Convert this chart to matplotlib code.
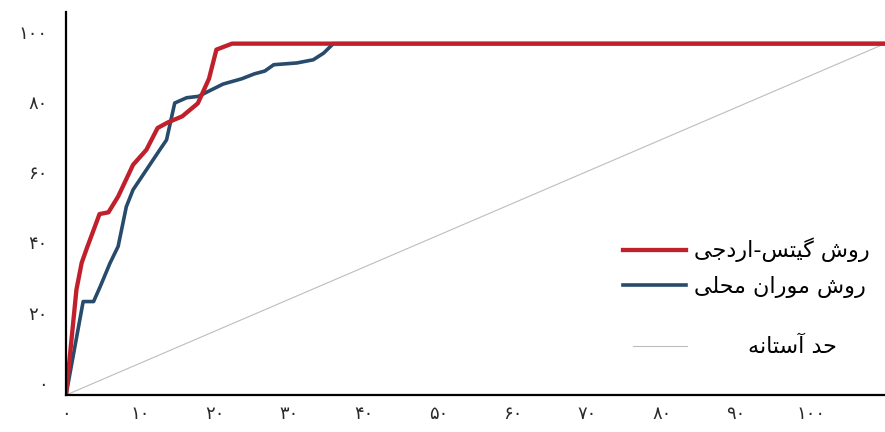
import matplotlib.pyplot as plt
from matplotlib.lines import Line2D
from matplotlib.transforms import ScaledTranslation

# Gates-Ord curve (x: percent of area, y: cumulative percent)
gates_x = [0, 1.4, 2.1, 2.8, 4.5, 5.7, 7.0, 9.0, 10.8, 12.3, 13.7, 15.6, 17.7, 19.2, 20.2, 22.3, 110]
gates_y = [0, 30, 37.6, 41.8, 51.5, 52.0, 56.5, 65.5, 69.8, 76.0, 77.6, 79.3, 83.0, 90.0, 98.3, 100, 100]

# local Moran curve
moran_x = [0, 2.3, 3.7, 4.6, 5.9, 7.0, 8.1, 9.0, 10.8, 12.6, 13.5, 14.6, 16.2, 17.8, 19.1, 21.1,
           23.6, 25.3, 26.7, 27.9, 31.0, 33.2, 34.6, 35.9, 110]
moran_y = [0, 26.6, 26.6, 30.9, 37.5, 42.3, 53.6, 58.4, 64.1, 69.8, 72.6, 83.1, 84.6, 85.0, 86.4, 88.5,
           90.0, 91.4, 92.2, 94.0, 94.5, 95.4, 97.3, 100, 100]

# threshold diagonal
thresh_x = [0, 110]
thresh_y = [0, 100]

x_ticks = [0, 10, 20, 30, 40, 50, 60, 70, 80, 90, 100]
y_ticks = [0, 20, 40, 60, 80, 100]

# pre-shaped Persian labels (presentation forms, visual order)
label_gates = "\uFBFD\uFE9F\uFEA9\uFEAD\uFE8D-\uFEB2\uFE98\uFBFF\uFB94 \uFEB5\uFEED\uFEAD"   # روش گیتس-اردجی
label_moran = "\uFBFD\uFEE0\uFEA4\uFEE3 \uFEE5\uFE8D\uFEAD\uFEEE\uFEE3 \uFEB5\uFEED\uFEAD"  # روش موران محلی
label_thresh = "\uFEEA\uFEE7\uFE8E\uFE98\uFEB3\uFE81 \uFEAA\uFEA3"                            # حد آستانه

fa_digits = str.maketrans("0123456789", "۰۱۲۳۴۵۶۷۸۹")


def to_fa(n):
    return str(n).translate(fa_digits)


plt.rcParams['font.family'] = ['DejaVu Sans']

fig = plt.figure(figsize=(8.85, 4.32), dpi=100)
ax = fig.add_axes([0.0746, 0.0856, 0.9254, 0.8866])

red = '#c0202c'
blue = '#284b6c'
grey = '#bdbdbd'

ax.plot(thresh_x, thresh_y, color=grey, lw=0.8)
ax.plot(moran_x, moran_y, color=blue, lw=2.6, solid_joinstyle='round')
ax.plot(gates_x, gates_y, color=red, lw=3.1, solid_joinstyle='round')

ax.set_xlim(0, 110)
ax.set_ylim(0, 109)

ax.set_xticks(x_ticks)
ax.set_xticklabels([to_fa(v) for v in x_ticks])
ax.set_yticks(y_ticks)
ax.set_yticklabels([to_fa(v) for v in y_ticks])
ax.tick_params(axis='both', length=0, labelsize=13, colors='#2a2a2a')
ax.tick_params(axis='y', pad=13)
ax.tick_params(axis='x', pad=7)

# y labels sit a little above their gridline positions
shift = ScaledTranslation(0, 12 / 100, fig.dpi_scale_trans)
for lab in ax.get_yticklabels():
    lab.set_transform(lab.get_transform() + shift)

for side in ['top', 'right']:
    ax.spines[side].set_visible(False)
for side in ['left', 'bottom']:
    ax.spines[side].set_linewidth(1.6)
    ax.spines[side].set_color('black')

h1 = Line2D([], [], color=red, lw=3.1)
h2 = Line2D([], [], color=blue, lw=2.6)
leg1 = ax.legend([h1, h2], [label_gates, label_moran], loc='center left',
                 bbox_to_anchor=(0.667, 0.332), frameon=False, fontsize=16,
                 handlelength=2.8, handletextpad=0.36, labelspacing=0.62, borderpad=0)
ax.add_artist(leg1)

h3 = Line2D([], [], color=grey, lw=0.8)
ax.legend([h3], [label_thresh], loc='center left', bbox_to_anchor=(0.679, 0.125),
          frameon=False, fontsize=16, handlelength=2.43, handletextpad=2.75, borderpad=0)

fig.savefig('out.png', dpi=100)
